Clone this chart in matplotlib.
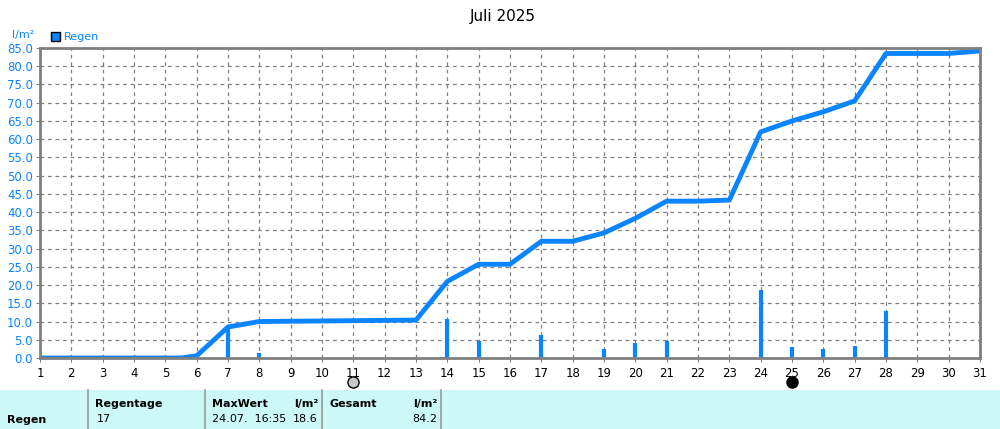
import matplotlib
matplotlib.use("Agg")
import matplotlib.pyplot as plt
from matplotlib.patches import Rectangle

days_cum = [1, 5.5, 6, 7, 8, 13, 14, 15, 16, 17, 18, 19, 20, 21, 22, 23, 24, 25, 26, 27, 28, 30, 31]
cum_vals = [0, 0, 0.6, 8.5, 10, 10.4, 21, 25.7, 25.7, 32, 32, 34.3, 38.3, 43, 43, 43.3, 62, 65, 67.5, 70.5, 83.5, 83.5, 84.2]
bar_days = [7, 8, 14, 15, 17, 19, 20, 21, 24, 25, 26, 27, 28]
bar_vals = [8.2, 1.3, 10.7, 4.7, 6.3, 2.5, 4.0, 4.7, 18.6, 3.0, 2.6, 3.2, 12.9]
yticks = [i * 5.0 for i in range(18)]
xticks = list(range(1, 32))
blue = "#0a84ff"

fig = plt.figure(figsize=(10, 4.29), dpi=100)
ax = fig.add_axes([0.040, 1 - 358 / 429, 0.940, 310 / 429])
ax.plot(days_cum, cum_vals, color=blue, lw=3.5, solid_joinstyle="round")
ax.vlines(bar_days, 0, bar_vals, color=blue, lw=3)
ax.set_xlim(1, 31)
ax.set_ylim(0, 85)
ax.set_xticks(xticks)
ax.set_yticks(yticks)
ax.set_yticklabels([f"{v:.1f}" for v in yticks], color=blue, fontsize=8.5)
ax.tick_params(axis="x", labelsize=8.5, length=3, color="#808080")
ax.tick_params(axis="y", length=3, color="#808080", pad=2)
ax.grid(True, color="#808080", ls=(0, (3, 3)), lw=0.9)
for s in ax.spines.values():
    s.set_color("#808080")
    s.set_linewidth(2)
ax.plot([11], [-6.5], "o", ms=8, mfc="#c8c8c8", mec="black", clip_on=False)
ax.plot([25], [-6.5], "o", ms=8, mfc="black", mec="black", clip_on=False)

fig.text(0.503, 1 - 16 / 429, "Juli 2025", ha="center", va="center", fontsize=11)
fig.text(0.012, 1 - 35 / 429, "l/m²", color=blue, fontsize=8, va="center")
fig.patches.append(Rectangle((0.051, 1 - 41 / 429), 0.009, 9 / 429, transform=fig.transFigure,
                             facecolor=blue, edgecolor="black", lw=1))
fig.text(0.064, 1 - 37 / 429, "Regen", color=blue, fontsize=8, va="center")

# bottom table
fig.patches.append(Rectangle((0, 0), 1, 39 / 429, transform=fig.transFigure,
                             facecolor="#cdf8f8", edgecolor="none"))
for xp in [88, 205, 322, 441]:
    fig.lines.append(plt.Line2D([xp / 1000, xp / 1000], [0, 39 / 429], transform=fig.transFigure,
                                color="#999999", lw=1.2))
def t(x, y, s, bold=False, ha="left"):
    fig.text(x / 1000, 1 - y / 429, s, fontsize=8, ha=ha, va="center",
             fontweight="bold" if bold else "normal")
t(7, 420, "Regen", True)
t(95, 404, "Regentage", True)
t(97, 419, "17")
t(212, 404, "MaxWert", True)
t(318, 404, "l/m²", True, "right")
t(212, 419, "24.07.  16:35")
t(318, 419, "18.6", ha="right")
t(330, 404, "Gesamt", True)
t(437, 404, "l/m²", True, "right")
t(437, 419, "84.2", ha="right")

fig.savefig("out.png", dpi=100)
